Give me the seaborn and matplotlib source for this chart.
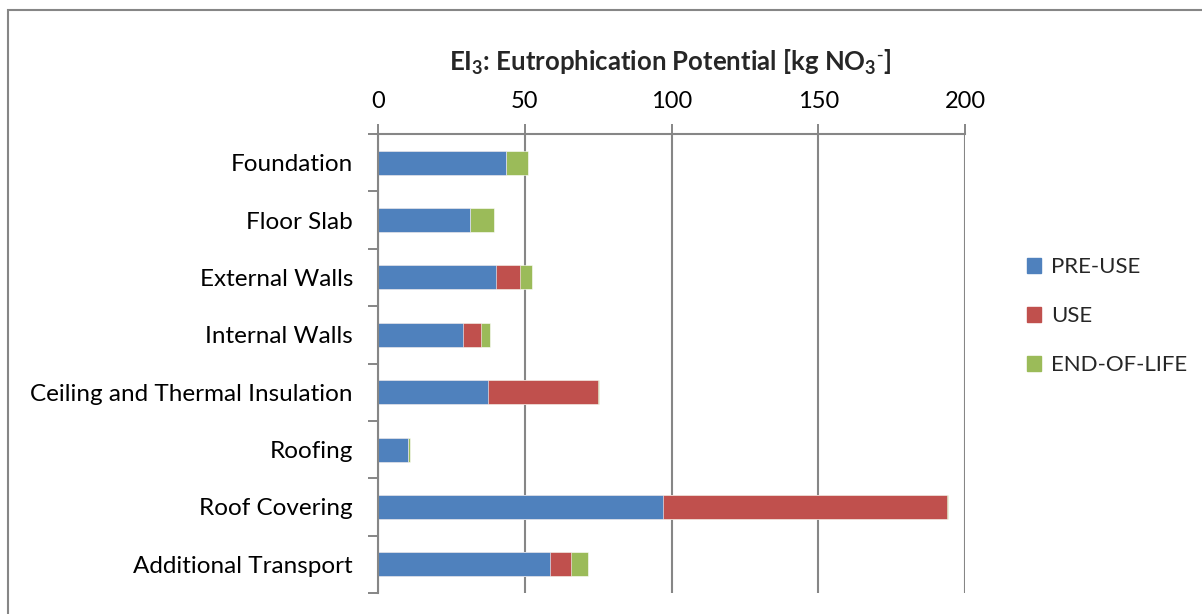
import numpy as np
import pandas as pd
import seaborn as sns
import matplotlib.pyplot as plt
from matplotlib.patches import Rectangle

# dados
categories = ["Foundation", "Floor Slab", "External Walls", "Internal Walls",
              "Ceiling and Thermal Insulation", "Roofing", "Roof Covering",
              "Additional Transport"]
pre_use = [43.6, 31.3, 40.1, 28.8, 37.5, 10.2, 97.1, 58.5]
use = [0.0, 0.0, 8.4, 6.3, 37.5, 0.0, 96.9, 7.3]
end_of_life = [7.5, 8.1, 4.0, 3.2, 0.4, 0.6, 0.3, 5.7]
series = ["PRE-USE", "USE", "END-OF-LIFE"]
colors = ["#4F81BD", "#C0504D", "#9BBB59"]
xticks = [0, 50, 100, 150, 200]

sns.set_theme(style="white")
plt.rcParams['font.family'] = ['Lato', 'DejaVu Sans']
plt.rcParams['mathtext.default'] = 'regular'

df = pd.DataFrame({"cat": categories, "pre": pre_use, "use": use, "eol": end_of_life})
df["c1"] = df["pre"]
df["c2"] = df["pre"] + df["use"]
df["c3"] = df["c2"] + df["eol"]

fig = plt.figure(figsize=(12.02, 6.14), dpi=100)
ax = fig.add_axes([378/1202, 1 - 593/614, (965-378)/1202, (593-134)/614])

# barras empilhadas: desenhar os totais de trás para frente
for col, c in zip(["c3", "c2", "c1"], colors[::-1]):
    sns.barplot(data=df, y="cat", x=col, color=c, width=0.42, ax=ax,
                edgecolor="white", linewidth=0.4, zorder=3, saturation=1)

ax.set_xlim(0, 200)
ax.set_ylim(len(categories) - 0.5, -0.5)
ax.set_xticks(xticks)
ax.xaxis.tick_top()
ax.set_xlabel("")
ax.set_ylabel("")
ax.tick_params(axis="x", labelsize=17, length=7, width=1.4, color="#868686", pad=9, labelcolor="black")
ax.tick_params(axis="y", labelsize=17.5, length=0, pad=18, labelcolor="black")
ax.set_yticks(np.arange(len(categories)))
ax.set_yticklabels(categories)
ax.set_yticks(np.arange(len(categories) + 1) - 0.5, minor=True)
ax.tick_params(axis="y", which="minor", length=7, width=1.4, color="#868686", left=True)

ax.grid(axis="x", color="#868686", linewidth=1.5, zorder=0)
ax.set_axisbelow(True)
for s in ["right", "bottom"]:
    ax.spines[s].set_visible(False)
for s in ["left", "top"]:
    ax.spines[s].set_color("#868686")
    ax.spines[s].set_linewidth(1.5)
    ax.spines[s].set_zorder(4)

fig.text(670/1202, 1 - 62/614, r"EI$_3$: Eutrophication Potential [kg NO$_3$$^{\text{-}}$]",
         ha="center", va="center", fontsize=18.5, fontweight="bold")

handles = [Rectangle((0, 0), 1, 1, color=c) for c in colors]
fig.legend(handles, series, loc="center left", bbox_to_anchor=(1007/1202, 1 - 316/614),
           frameon=False, fontsize=16, handlelength=0.65, handleheight=0.65,
           labelspacing=1.3, handletextpad=0.45)

fig.patches.append(Rectangle((8/1202, -0.1), 1.2, 1.1 - 10/614, transform=fig.transFigure,
                             fill=False, edgecolor="#868686", linewidth=1.5))

fig.savefig("out.png", dpi=100)
